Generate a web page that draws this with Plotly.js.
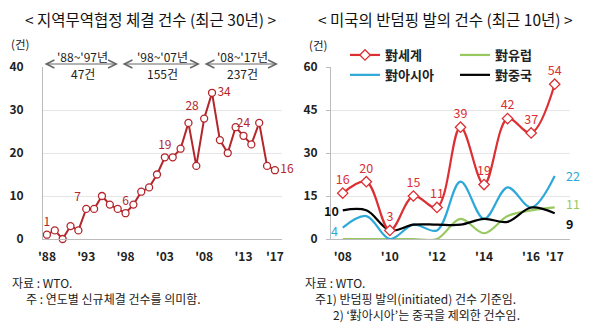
<!DOCTYPE html>
<html><head><meta charset="utf-8">
<script src="https://cdn.plot.ly/plotly-3.0.1.min.js"></script>
<style>html,body{margin:0;padding:0;background:#fff}#c{width:600px;height:334px}</style>
</head><body><div id="c"></div>
<script>
// ---- Left chart data ----
const rtaYears = [1988,1989,1990,1991,1992,1993,1994,1995,1996,1997,1998,1999,2000,2001,2002,2003,2004,2005,2006,2007,2008,2009,2010,2011,2012,2013,2014,2015,2016,2017];
const rtaCounts = [1,2,0,3,2,7,7,10,8,7,6,8,11,12,15,19,19,21,27,17,28,34,23,20,26,24,22,27,17,16];
const rtaLabelYears = [1988,1993,1998,2003,2008,2009,2013,2017];
const rtaTickVals = [1988,1993,1998,2003,2008,2013,2017];
const rtaTickText = ["'88","'93","'98","'03","'08","'13","'17"];
const periodTop = ["'88~'97년","'98~'07년","'08~'17년"];
const periodBottom = ["47건","155건","237건"];

// ---- Right chart data ----
const adYears = [2008,2009,2010,2011,2012,2013,2014,2015,2016,2017];
const adWorld = [16,20,3,15,11,39,19,42,37,54];
const adEurope = [0,0,0,0,0,7,2,8,10,11];
const adAsia = [4,8,0,5,3,20,7,18,11,22];
const adChina = [10,10,3,5,5,5,7,6,11,9];
const adTickVals = [2008,2010,2012,2014,2016,2017];
const adTickText = ["'08","'10","'12","'14","'16","'17"];
const adNames = ["對세계","對유럽","對아시아","對중국"];

const FONT = "Noto Sans CJK KR, Noto Sans, sans-serif";
const RED1 = "#b3262b";
const RED2 = "#dc2f33";
const BLUE = "#2ea8d8";
const GREEN = "#97c95f";

const rtaText = rtaYears.map((y,i)=> rtaLabelYears.includes(y) ? String(rtaCounts[i]) : "");
const rtaPos = rtaYears.map(y=>{
  if (y===2008 || y===1993) return "top left";
  if (y===2009) return "middle right";
  if (y===2017) return "middle right";
  return "top center";
});

const traces = [
  {x: rtaYears, y: rtaCounts, xaxis:'x', yaxis:'y', mode:'lines+markers+text', showlegend:false,
   line:{color:RED1, width:2}, marker:{symbol:'circle', size:7, color:'#fff', line:{color:RED1, width:1.3}},
   text: rtaText, textposition: rtaPos, textfont:{family:FONT, size:12, color:RED1}, cliponaxis:false},
  {x: adYears, y: adEurope, xaxis:'x2', yaxis:'y2', name: adNames[1], legend:'legend2', legendrank:1, mode:'lines',
   line:{color:GREEN, width:2.2, shape:'spline', smoothing:1}},
  {x: adYears, y: adAsia, xaxis:'x2', yaxis:'y2', name: adNames[2], legend:'legend', legendrank:2, mode:'lines',
   line:{color:BLUE, width:2.2, shape:'spline', smoothing:1}},
  {x: adYears, y: adChina, xaxis:'x2', yaxis:'y2', name: adNames[3], legend:'legend2', legendrank:2, mode:'lines',
   line:{color:'#000', width:2.2, shape:'spline', smoothing:1}},
  {x: adYears, y: adWorld, xaxis:'x2', yaxis:'y2', name: adNames[0], legend:'legend', legendrank:1, mode:'lines+markers+text',
   line:{color:RED2, width:2.2, shape:'spline', smoothing:1}, marker:{symbol:'diamond', size:8, color:'#fff', line:{color:RED2, width:1.3}},
   text: adWorld.map(String), textposition:'top center', textfont:{family:FONT, size:12.5, color:RED2}, cliponaxis:false}
];

const W = 600, H = 334;
const px = v => v/W;
const py = v => (H - v)/H;

const annotations = [];
// end-of-line value labels on the right chart
const L = adYears.length - 1;
function valLabel(yr, val, color, xshift, yshift, bold){
  annotations.push({xref:'x2', yref:'y2', x:yr, y:val, text:String(val), showarrow:false, xshift:xshift, yshift:yshift,
    font:{family:FONT, size:12.5, color:color, weight: bold ? 'bold' : 'normal'}, xanchor:'center', yanchor:'middle'});
}
valLabel(adYears[L], adAsia[L], BLUE, 18, 0, false);
valLabel(adYears[L], adEurope[L], GREEN, 18, 4, false);
valLabel(adYears[L], adChina[L], '#111', 15, -10, true);
valLabel(adYears[0], adChina[0], '#111', -11, 0, true);
valLabel(adYears[0], adAsia[0], BLUE, -8, -3, false);

// period brackets
const brackets = [[43,118],[121,200],[203,278]];
brackets.forEach((b,i)=>{
  annotations.push({xref:'paper', yref:'paper', x:px(b[1]), y:py(64), ax:-(b[1]-b[0]), ay:0, text:'',
    showarrow:true, arrowhead:5, startarrowhead:5, arrowside:'end+start', arrowsize:1.6, startarrowsize:1.6, arrowwidth:1, arrowcolor:'#666'});
  const cx = (b[0]+b[1])/2 + 2;
  annotations.push({xref:'paper', yref:'paper', x:px(cx), y:py(56), text:periodTop[i], showarrow:false,
    font:{family:FONT, size:12, color:'#222'}, xanchor:'center', yanchor:'middle'});
  annotations.push({xref:'paper', yref:'paper', x:px(cx), y:py(73), text:periodBottom[i], showarrow:false,
    font:{family:FONT, size:12, color:'#222'}, xanchor:'center', yanchor:'middle'});
});
// unit labels
annotations.push({xref:'paper', yref:'paper', x:px(20), y:py(44), text:'(건)', showarrow:false, font:{family:FONT, size:11.5, color:'#222'}, xanchor:'center', yanchor:'middle'});
annotations.push({xref:'paper', yref:'paper', x:px(318), y:py(45), text:'(건)', showarrow:false, font:{family:FONT, size:11.5, color:'#222'}, xanchor:'center', yanchor:'middle'});
// titles
annotations.push({xref:'paper', yref:'paper', x:px(150), y:py(19), text:'< 지역무역협정 체결 건수 (최근 30년) >', showarrow:false, font:{family:FONT, size:15.5, color:'#111'}, xanchor:'center', yanchor:'middle'});
annotations.push({xref:'paper', yref:'paper', x:px(445), y:py(19), text:'< 미국의 반덤핑 발의 건수 (최근 10년) >', showarrow:false, font:{family:FONT, size:15.5, color:'#111'}, xanchor:'center', yanchor:'middle'});
// footnotes
const fn = {family:FONT, size:12, color:'#222'};
[[10,282,'자료 : WTO.'],[24,298,'주 : 연도별 신규체결 건수를 의미함.'],
 [303,282,'자료 : WTO.'],[313,298,'주1) 반덤핑 발의(initiated) 건수 기준임.'],[331,314,"2) ‘對아시아’는 중국을 제외한 건수임."]].forEach(f=>{
  annotations.push({xref:'paper', yref:'paper', x:px(f[0]), y:py(f[1]), text:f[2], showarrow:false, font:fn, xanchor:'left', yanchor:'middle'});
});

const tickFont = {family:FONT, size:12, color:'#222', weight:'bold'};
const layout = {
  width:W, height:H, margin:{l:0,r:0,t:0,b:0}, paper_bgcolor:'#fff', plot_bgcolor:'rgba(0,0,0,0)',
  xaxis:{domain:[px(43),px(282)], range:[1987.5,2017.9], tickvals:rtaTickVals, ticktext:rtaTickText, showgrid:false, zeroline:false,
    showline:true, linecolor:'#bbb', linewidth:1, ticks:'', tickfont:tickFont, ticklabelstandoff:7},
  yaxis:{domain:[py(239),py(67)], range:[0,40], tickvals:[0,10,20,30,40], showgrid:true, gridcolor:'#e6e6e6', zeroline:false,
    showline:true, linecolor:'#bbb', linewidth:1, ticks:'', tickfont:tickFont, ticklabelstandoff:16},
  xaxis2:{domain:[px(331),px(570)], range:[2007.5,2017.65], tickvals:adTickVals, ticktext:adTickText, showgrid:false, zeroline:false,
    showline:true, linecolor:'#bbb', linewidth:1, ticks:'', tickfont:tickFont, ticklabelstandoff:7, anchor:'y2'},
  yaxis2:{domain:[py(239),py(67)], range:[0,60], tickvals:[0,15,30,45,60], showgrid:true, gridcolor:'#e6e6e6', zeroline:false,
    showline:true, linecolor:'#bbb', linewidth:1, ticks:'outside', ticklen:4, tickcolor:'#bbb', tickfont:tickFont, ticklabelstandoff:6, anchor:'x2'},
  legend:{x:px(345), y:py(40), xanchor:'left', yanchor:'top', orientation:'v', bgcolor:'rgba(0,0,0,0)', itemwidth:30,
    font:{family:FONT, size:13, color:'#222', weight:'bold'}, traceorder:'normal', tracegroupgap:0},
  legend2:{x:px(455), y:py(40), xanchor:'left', yanchor:'top', orientation:'v', bgcolor:'rgba(0,0,0,0)', itemwidth:30,
    font:{family:FONT, size:13, color:'#222', weight:'bold'}, traceorder:'normal', tracegroupgap:0},
  annotations: annotations,
  showlegend:true
};

Plotly.newPlot('c', traces, layout, {staticPlot:true, displayModeBar:false});
</script>
</body></html>
